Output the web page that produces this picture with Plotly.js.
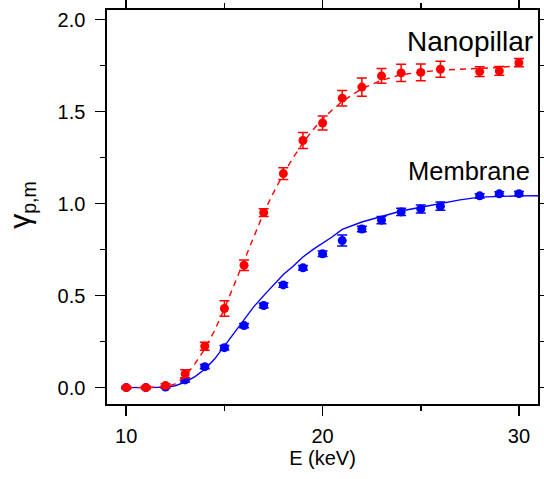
<!DOCTYPE html>
<html>
<head>
<meta charset="utf-8">
<script src="https://cdn.plot.ly/plotly-3.0.1.min.js"></script>
<style>html,body{margin:0;padding:0;background:#fff;}#chart{width:544px;height:479px;}</style>
</head>
<body>
<div id="chart"></div>
<script>
// Measured data points
const energy = [10, 11, 12, 13, 14, 15, 16, 17, 18, 19, 20, 21, 22, 23, 24, 25, 26, 28, 29, 30];
const nanopillar = [0, 0, 0.011, 0.075, 0.225, 0.43, 0.665, 0.951, 1.163, 1.343, 1.438, 1.573, 1.633, 1.694, 1.71, 1.713, 1.73, 1.717, 1.721, 1.766];
const nanopillarErr = [0.008, 0.008, 0.01, 0.022, 0.022, 0.042, 0.029, 0.021, 0.032, 0.044, 0.038, 0.042, 0.05, 0.04, 0.047, 0.045, 0.043, 0.026, 0.024, 0.023];
const membrane = [0, 0, 0.003, 0.042, 0.114, 0.217, 0.337, 0.446, 0.558, 0.651, 0.727, 0.799, 0.862, 0.91, 0.955, 0.971, 0.986, 1.042, 1.053, 1.054];
const membraneErr = [0.005, 0.005, 0.005, 0.012, 0.012, 0.012, 0.012, 0.012, 0.012, 0.012, 0.015, 0.03, 0.015, 0.02, 0.02, 0.022, 0.022, 0.012, 0.012, 0.012];

// Model curves
const fitNanoE = [10, 11, 12, 12.5, 13, 13.5, 14, 14.5, 15, 15.5, 16, 16.5, 17, 17.5, 18, 18.5, 19, 19.5, 20, 20.5, 21, 21.5, 22, 23, 24, 25, 26, 27, 28, 29, 30];
const fitNano = [0, 0, 0.005, 0.02, 0.06, 0.13, 0.21, 0.31, 0.43, 0.56, 0.70, 0.83, 0.95, 1.06, 1.16, 1.25, 1.33, 1.40, 1.46, 1.51, 1.555, 1.59, 1.625, 1.67, 1.70, 1.715, 1.725, 1.73, 1.735, 1.74, 1.75];
const fitMemE = [10, 11, 12, 12.5, 13, 13.5, 14, 14.5, 15, 15.5, 16, 16.5, 17, 17.5, 18, 18.5, 19, 19.5, 20, 20.5, 21, 21.5, 22, 23, 24, 25, 26, 27, 28, 29, 30, 31];
const fitMem = [0, 0, 0.002, 0.01, 0.03, 0.06, 0.10, 0.155, 0.225, 0.30, 0.37, 0.44, 0.50, 0.56, 0.615, 0.66, 0.71, 0.75, 0.785, 0.82, 0.86, 0.88, 0.90, 0.93, 0.96, 0.98, 1.0, 1.02, 1.035, 1.04, 1.042, 1.043];

const xTickVals = [10, 20, 30];
const xTickText = ['10', '20', '30'];
const yTickVals = [0, 0.5, 1.0, 1.5, 2.0];
const yTickText = ['0.0', '0.5', '1.0', '1.5', '2.0'];
const labels = {nano: 'Nanopillar', mem: 'Membrane', x: 'E (keV)',
  y: '<span style="font-size:30px">γ</span><sub>p,m</sub>'};
const RED = '#ff0000', BLUE = '#0000ff';
const FONT = 'Liberation Sans, Arial, sans-serif';

const traces = [
  {x: fitMemE, y: fitMem, mode: 'lines', line: {color: BLUE, width: 1.4}, hoverinfo: 'skip'},
  {x: energy, y: membrane, mode: 'markers', marker: {color: BLUE, size: 9},
   error_y: {type: 'data', array: membraneErr, visible: true, color: BLUE, thickness: 1.5, width: 5}},
  {x: fitNanoE, y: fitNano, mode: 'lines', line: {color: RED, width: 1.4, dash: '6px,5px'}, hoverinfo: 'skip'},
  {x: energy, y: nanopillar, mode: 'markers', marker: {color: RED, size: 9},
   error_y: {type: 'data', array: nanopillarErr, visible: true, color: RED, thickness: 1.5, width: 5}}
];

const axisCommon = {
  showline: true, linecolor: '#000', linewidth: 1.6, mirror: 'allticks',
  ticks: 'outside', ticklen: 10, tickwidth: 1.6, tickcolor: '#000',
  showgrid: false, zeroline: false,
  tickfont: {family: FONT, size: 20, color: '#000'},
  minor: {ticks: 'outside', ticklen: 5.5, tickwidth: 1.6, tickcolor: '#000', showgrid: false}
};

const layout = {
  width: 544, height: 479,
  margin: {l: 107, r: 6, t: 10, b: 75},
  paper_bgcolor: '#fff', plot_bgcolor: '#fff',
  showlegend: false,
  xaxis: Object.assign({}, axisCommon, {
    range: [9.02, 30.97], tickvals: xTickVals, ticktext: xTickText,
    minor: Object.assign({}, axisCommon.minor, {tickvals: [15, 25]}),
    ticklabelstandoff: 3,
    title: {text: labels.x, font: {family: FONT, size: 20, color: '#000'}, standoff: 0}
  }),
  yaxis: Object.assign({}, axisCommon, {
    range: [-0.089, 2.052], tickvals: yTickVals, ticktext: yTickText,
    minor: Object.assign({}, axisCommon.minor, {tickvals: [0.25, 0.75, 1.25, 1.75]}),
    ticklabelstandoff: 6
  }),
  annotations: [
    {x: -0.2, y: 0.505, xref: 'paper', yref: 'paper', text: labels.y, showarrow: false, textangle: -90,
     xanchor: 'center', yanchor: 'middle', font: {family: FONT, size: 28, color: '#000'}},
    {x: 0.993, y: 0.919, xref: 'paper', yref: 'paper', text: labels.nano, showarrow: false, xanchor: 'right', yanchor: 'middle',
     font: {family: FONT, size: 28, color: '#000'}},
    {x: 0.986, y: 0.5916, xref: 'paper', yref: 'paper', text: labels.mem, showarrow: false, xanchor: 'right', yanchor: 'middle',
     font: {family: FONT, size: 25.5, color: '#000'}}
  ]
};

Plotly.newPlot('chart', traces, layout, {displayModeBar: false, staticPlot: true});
</script>
</body>
</html>
